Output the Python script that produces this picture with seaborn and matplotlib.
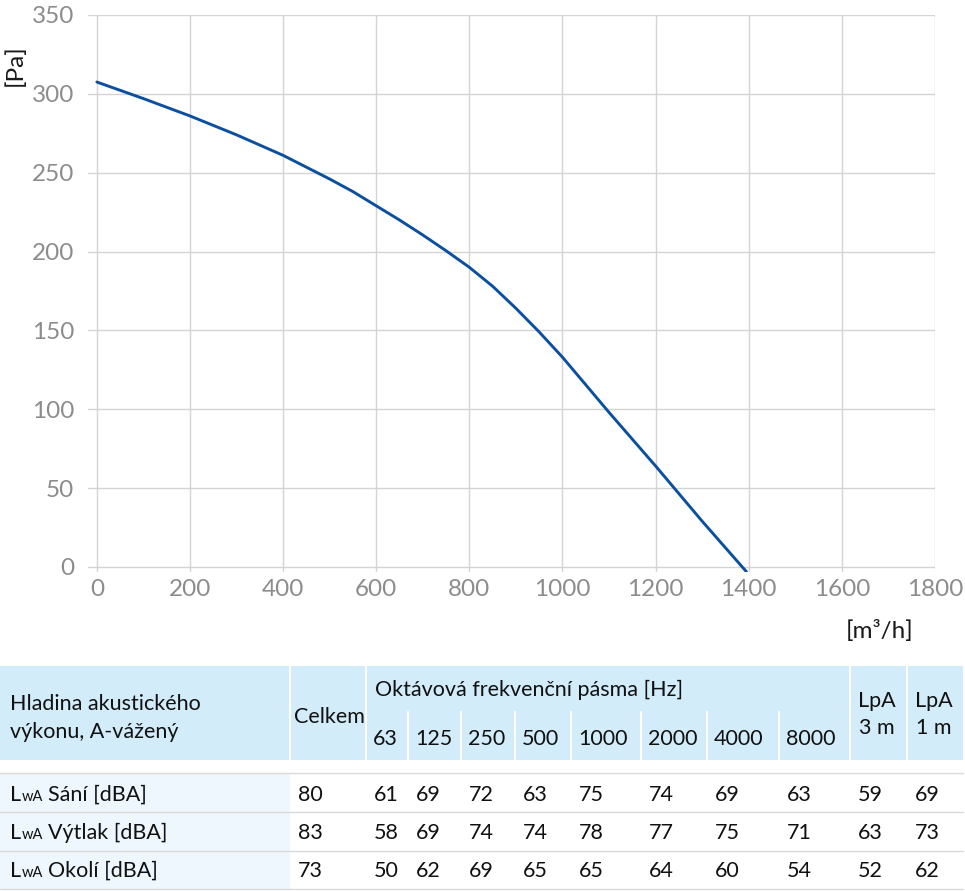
import matplotlib
matplotlib.use("Agg")
import matplotlib.pyplot as plt
import seaborn as sns
import pandas as pd
from matplotlib.patches import Rectangle

# Charakteristika ventilátoru
prutok = [0, 100, 200, 300, 400, 500, 550, 600, 650, 700, 750, 800, 850, 900,
          950, 1000, 1100, 1200, 1300, 1395]
tlak = [307.5, 297, 286, 274, 261, 246, 238, 229, 220, 210.5, 200.5, 190, 178, 164,
        149, 133, 98, 64, 29, -3]

x_ticks = [0, 200, 400, 600, 800, 1000, 1200, 1400, 1600, 1800]
y_ticks = [0, 50, 100, 150, 200, 250, 300, 350]

# Tabulka hluku
pasma = ["63", "125", "250", "500", "1000", "2000", "4000", "8000"]
radky = ["Sání", "Výtlak", "Okolí"]
celkem = [80, 83, 73]
oktavy_sani = [61, 69, 72, 63, 75, 74, 69, 63]
oktavy_vytlak = [58, 69, 74, 74, 78, 77, 75, 71]
oktavy_okoli = [50, 62, 69, 65, 65, 64, 60, 54]
lpa_3m = [59, 63, 52]
lpa_1m = [69, 73, 62]

W, H = 965, 891
FONT = ["Lato", "DejaVu Sans"]

sns.set_theme(style="white")
plt.rcParams["font.family"] = FONT

fig = plt.figure(figsize=(W / 100, H / 100), dpi=100)

# --- graf ---
ax = fig.add_axes([88 / W, 1 - 572 / H, 847 / W, 557 / H])
df = pd.DataFrame({"q": prutok, "p": tlak})
sns.lineplot(data=df, x="q", y="p", ax=ax, color="#0b4f9e", linewidth=2.1)
ax.set_xlim(-19, 1800)
ax.set_ylim(-3.2, 350)
ax.set_xticks(x_ticks)
ax.set_yticks(y_ticks)
ax.grid(True, color="#d4d4d4", linewidth=1.0)
ax.set_axisbelow(True)
for s in ax.spines.values():
    s.set_visible(False)
ax.tick_params(axis="both", length=0, colors="#8c8c8c", labelsize=17.5)
ax.tick_params(axis="y", pad=10)
ax.tick_params(axis="x", pad=5)
ax.set_xlabel("")
ax.set_ylabel("")
fig.text(15 / W, 1 - 65 / H, "[Pa]", rotation=90, ha="center", va="center",
         fontsize=17.5, color="#1a1a1a")
fig.text(880 / W, 1 - 631 / H, "[m³/h]", ha="center", va="center",
         fontsize=17.5, color="#1a1a1a")

# --- tabulka ---
tax = fig.add_axes([0, 0, 1, 1], zorder=-1)
tax.set_xlim(0, W)
tax.set_ylim(H, 0)
tax.axis("off")

hdr_blue = "#d3ecfa"
col_blue = "#eef7fd"
line_gray = "#dadada"
txt = "#111111"
fs = 15.5

cols = [290, 366, 408, 461, 515, 571, 641, 707, 779, 850, 907, 963]

tax.add_patch(Rectangle((0, 666), 963, 94, color=hdr_blue, lw=0))
for c in [290, 366, 850, 907]:
    tax.plot([c, c], [666, 760], color="white", lw=1.5)
for c in cols[2:9]:
    tax.plot([c, c], [712, 760], color="white", lw=1.5)

tax.add_patch(Rectangle((0, 773), 290, 116, color=col_blue, lw=0))
for yl in [773, 812, 851, 889]:
    tax.plot([0, 963], [yl, yl], color=line_gray, lw=1.0)

# hlavička
tax.text(10, 704, "Hladina akustického", fontsize=fs, va="center", ha="left", color=txt)
tax.text(10, 732, "výkonu, A-vážený", fontsize=fs, va="center", ha="left", color=txt)
tax.text(294, 717, "Celkem", fontsize=fs, va="center", ha="left", color=txt)
tax.text(375, 690, "Oktávová frekvenční pásma [Hz]", fontsize=fs, va="center",
         ha="left", color=txt)
for i, p in enumerate(pasma):
    tax.text(cols[i + 1] + 7, 739, p, fontsize=fs, va="center", ha="left", color=txt)
tax.text(cols[9] + 8, 701, "LpA", fontsize=fs, va="center", ha="left", color=txt)
tax.text(cols[9] + 9, 728, "3 m", fontsize=fs, va="center", ha="left", color=txt)
tax.text(cols[10] + 8, 701, "LpA", fontsize=fs, va="center", ha="left", color=txt)
tax.text(cols[10] + 9, 728, "1 m", fontsize=fs, va="center", ha="left", color=txt)

# řádky
oktavy = [oktavy_sani, oktavy_vytlak, oktavy_okoli]
row_y = [795, 833, 871]
for r, name in enumerate(radky):
    y = row_y[r]
    tax.text(10, y, "L", fontsize=fs, va="center", ha="left", color=txt)
    tax.text(22, y + 2, "wA", fontsize=10.5, va="center", ha="left", color=txt)
    tax.text(48, y, f"{name} [dBA]", fontsize=fs, va="center", ha="left", color=txt)
    vals = [celkem[r]] + oktavy[r] + [lpa_3m[r], lpa_1m[r]]
    for i, v in enumerate(vals):
        tax.text(cols[i] + 8, y, str(v), fontsize=fs, va="center", ha="left", color=txt)

fig.savefig("out.png", dpi=100)
